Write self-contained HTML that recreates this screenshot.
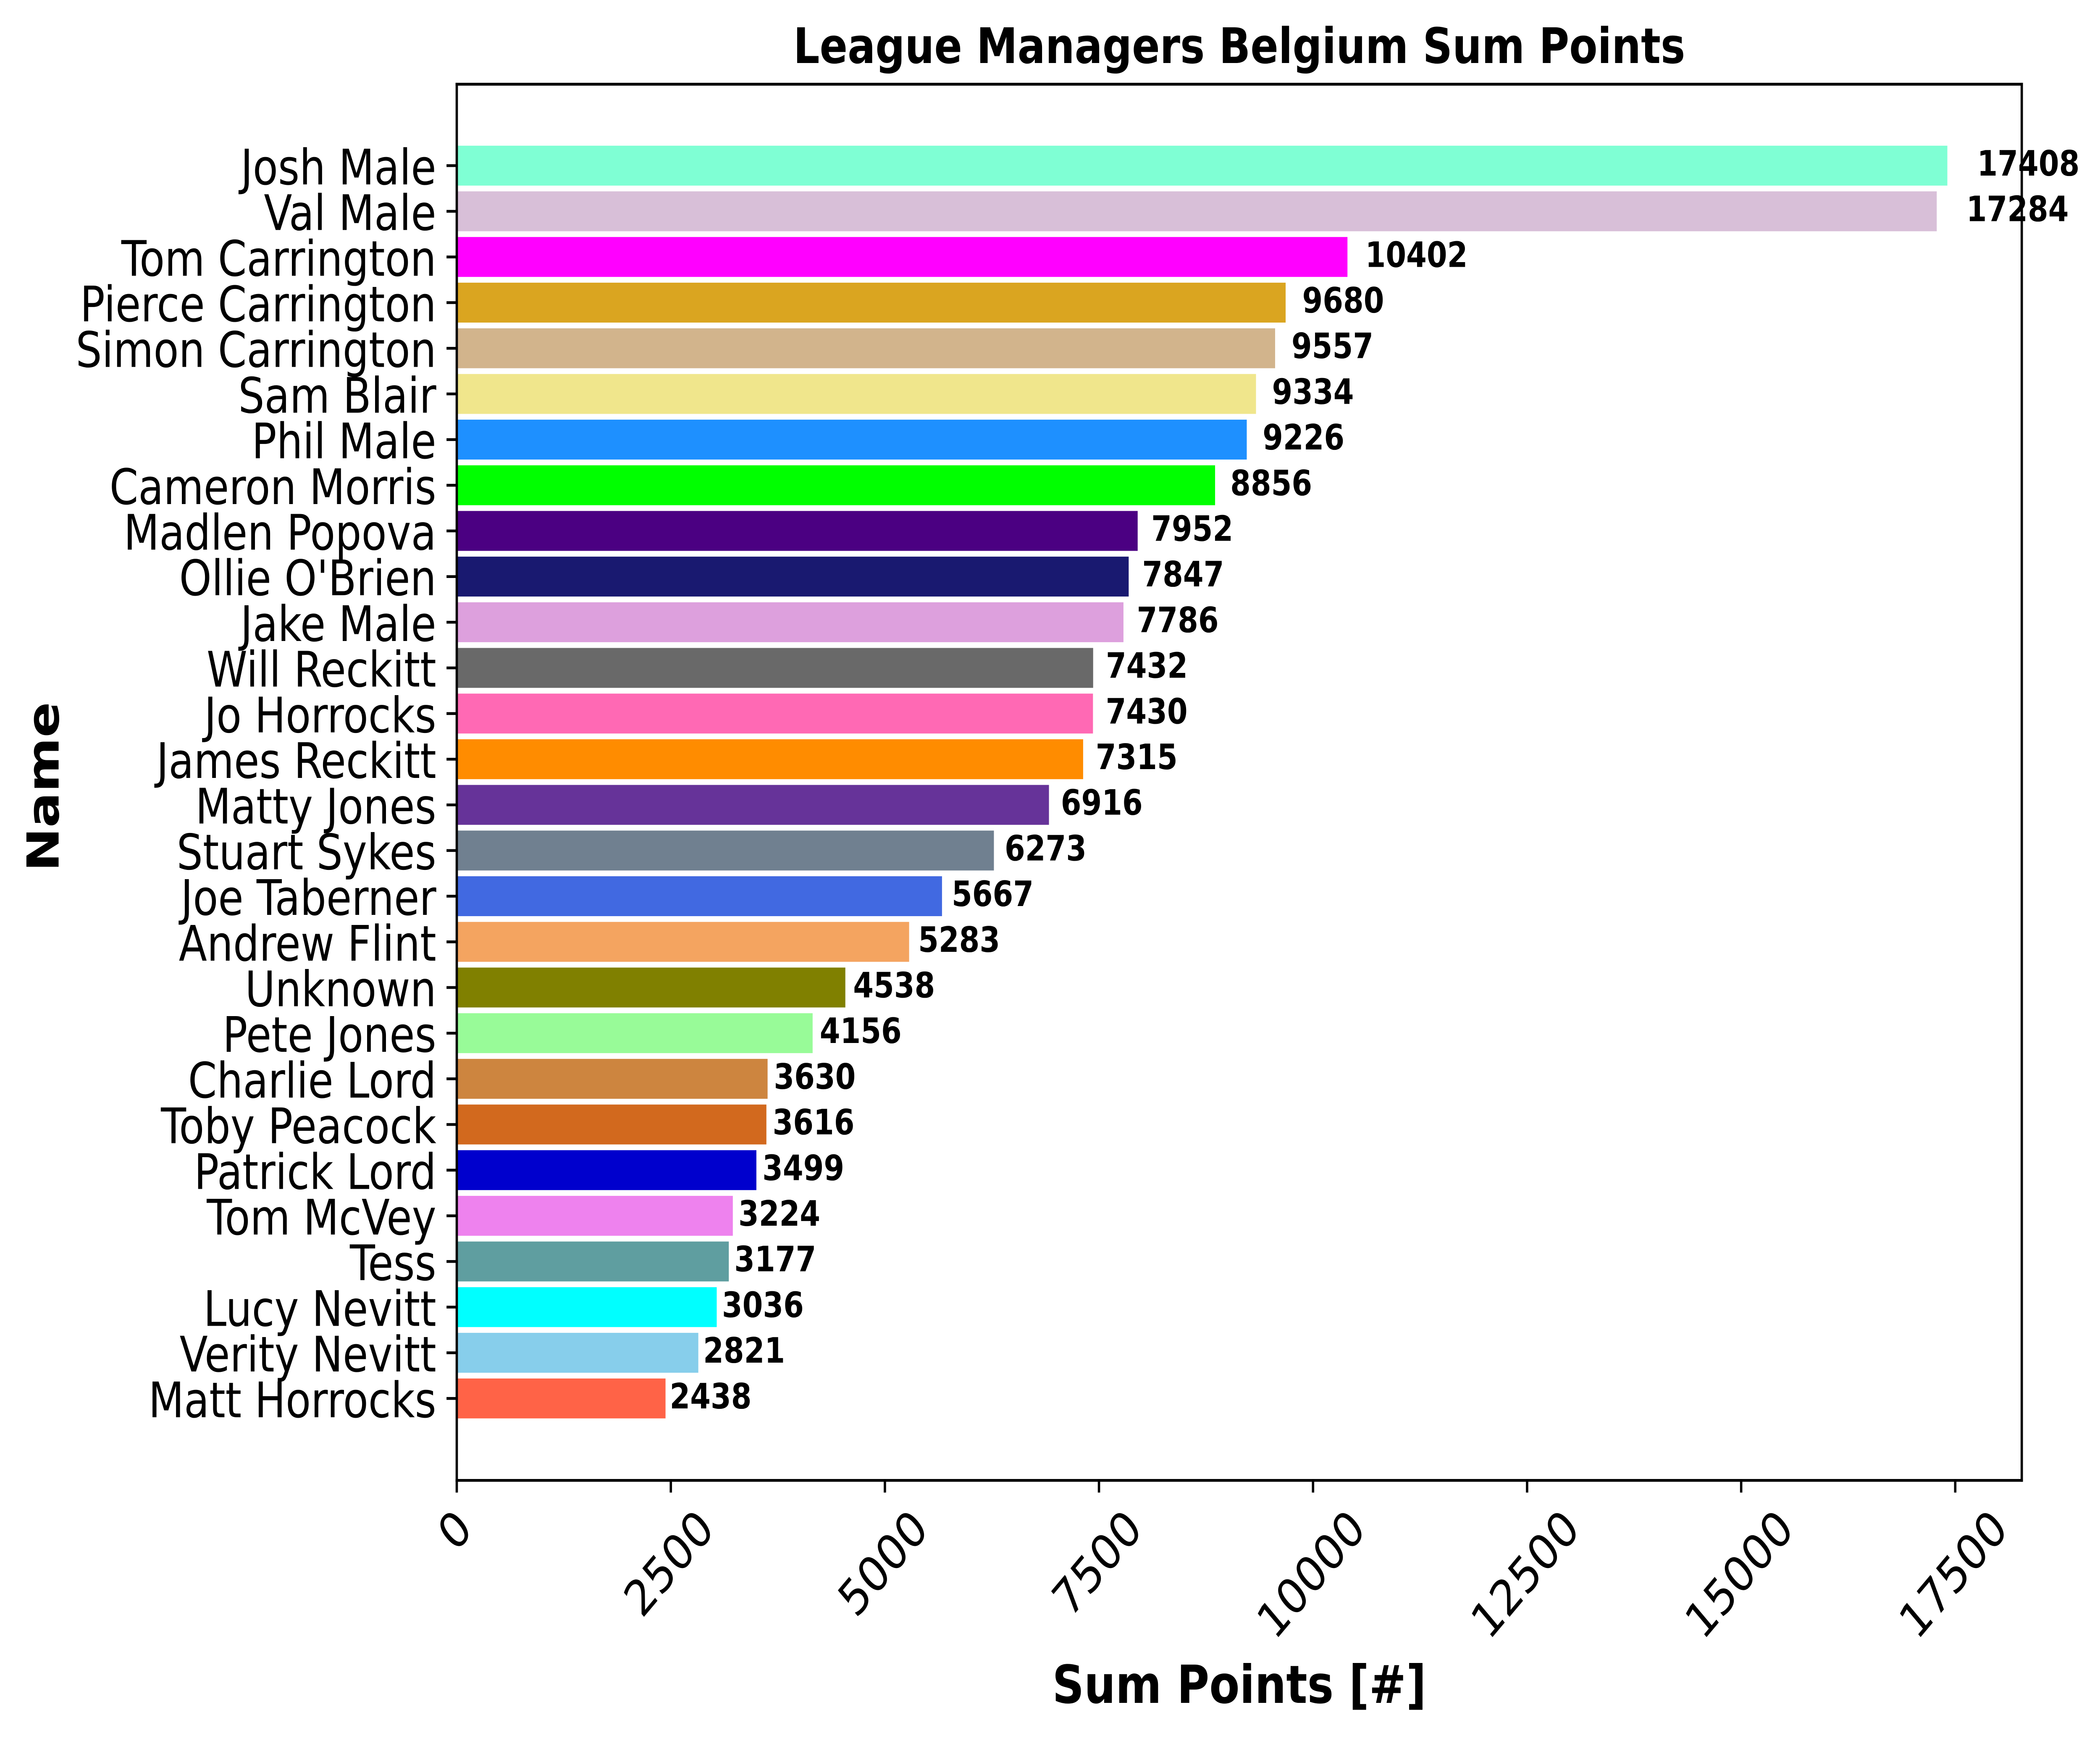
<!DOCTYPE html>
<html lang="en">
<head>
<meta charset="utf-8">
<title>League Managers Belgium Sum Points</title>
<style>
html,body{margin:0;padding:0;width:100%;height:100%;overflow:hidden;background:#fff;}
svg{display:block;width:100vw;height:100vh;text-rendering:geometricPrecision;}
text{font-family:"DejaVu Sans","Liberation Sans",sans-serif;fill:#000;}
</style>
</head>
<body>
<svg id="chart" xmlns="http://www.w3.org/2000/svg" viewBox="0 0 5946 4140" preserveAspectRatio="none">
<rect x="0" y="0" width="5946" height="4140" fill="#ffffff"/>
<text x="3509" y="150" text-anchor="middle" font-size="116.67" font-weight="700">League Managers Belgium Sum Points</text>
<text x="3509" y="4054" text-anchor="middle" font-size="125" font-weight="700">Sum Points [#]</text>
<text transform="translate(166,1873) rotate(-90)" x="0" y="0" text-anchor="middle" font-size="125" font-weight="700">Name</text>
</svg>
<script>
const categories = ["Josh Male","Val Male","Tom Carrington","Pierce Carrington","Simon Carrington","Sam Blair","Phil Male","Cameron Morris","Madlen Popova","Ollie O'Brien","Jake Male","Will Reckitt","Jo Horrocks","James Reckitt","Matty Jones","Stuart Sykes","Joe Taberner","Andrew Flint","Unknown","Pete Jones","Charlie Lord","Toby Peacock","Patrick Lord","Tom McVey","Tess","Lucy Nevitt","Verity Nevitt","Matt Horrocks"];
const sumPoints = [17408,17284,10402,9680,9557,9334,9226,8856,7952,7847,7786,7432,7430,7315,6916,6273,5667,5283,4538,4156,3630,3616,3499,3224,3177,3036,2821,2438];
const barColors = ["#7FFFD4","#D8BFD8","#FF00FF","#DAA520","#D2B48C","#F0E68C","#1E90FF","#00FF00","#4B0082","#191970","#DDA0DD","#696969","#FF69B4","#FF8C00","#663399","#708090","#4169E1","#F4A460","#808000","#98FB98","#CD853F","#D2691E","#0000CD","#EE82EE","#5F9EA0","#00FFFF","#87CEEB","#FF6347"];
const xTickValues = [0,2500,5000,7500,10000,12500,15000,17500];

const svgNS = "http://www.w3.org/2000/svg";
const svg = document.getElementById("chart");
const plot = {left:1293.3, right:5724.5, top:200.5, bottom:3524.3};
const xMax = 18277;
const rowFirst = 394.35, rowStep = 108.7, barThickness = 95;
const tickFont = 116.67, valueFont = 83.33, tickLen = 29, tickPad = 29, lineW = 6.67;

function xScale(v){ return plot.left + (v / xMax) * (plot.right - plot.left); }
function yScale(i){ return rowFirst + i * rowStep; }
function make(tag, attrs){
  const el = document.createElementNS(svgNS, tag);
  for (const k in attrs) el.setAttribute(k, attrs[k]);
  return el;
}

categories.forEach(function(name, i){
  const bar = make("rect", {x:xScale(0), y:yScale(i)-barThickness/2, width:xScale(sumPoints[i])-xScale(0), height:barThickness, fill:barColors[i]});
  
  
  svg.appendChild(bar);
});

["top","right","bottom","left"].forEach(function(side){
  const c = {
    top:[plot.left,plot.top,plot.right,plot.top],
    right:[plot.right,plot.top,plot.right,plot.bottom],
    bottom:[plot.left,plot.bottom,plot.right,plot.bottom],
    left:[plot.left,plot.top,plot.left,plot.bottom]
  }[side];
  const spine = make("line", {x1:c[0], y1:c[1], x2:c[2], y2:c[3], stroke:"#000", "stroke-width":lineW, "stroke-linecap":"square"});
  
  
  svg.appendChild(spine);
});

categories.forEach(function(name, i){
  const y = yScale(i);
  const tick = make("line", {x1:plot.left-tickLen, y1:y, x2:plot.left, y2:y, stroke:"#000", "stroke-width":lineW});
  
  
  svg.appendChild(tick);

  const label = make("text", {x:plot.left-tickLen-tickPad, y:y+44.5, "text-anchor":"end", "font-size":tickFont});
  label.textContent = name;
  
  
  svg.appendChild(label);

  const value = make("text", {x:xScale(sumPoints[i]*1.02), y:y+23.5, "font-size":valueFont, "font-weight":700});
  value.textContent = String(sumPoints[i]);
  
  
  svg.appendChild(value);
});

xTickValues.forEach(function(v){
  const x = xScale(v);
  const tick = make("line", {x1:x, y1:plot.bottom, x2:x, y2:plot.bottom+tickLen, stroke:"#000", "stroke-width":lineW});
  
  
  svg.appendChild(tick);

  const label = make("text", {x:0, y:32.5, "text-anchor":"middle", "font-size":tickFont});
  label.textContent = String(v);
  
  
  svg.appendChild(label);
  const w = label.getComputedTextLength() || String(v).length * 74.2;
  const cy = plot.bottom + tickLen + tickPad + (w + 113) * Math.SQRT1_2 / 2;
  label.setAttribute("transform", "translate(" + x + "," + cy + ") rotate(-45)");
});
</script>
</body>
</html>
